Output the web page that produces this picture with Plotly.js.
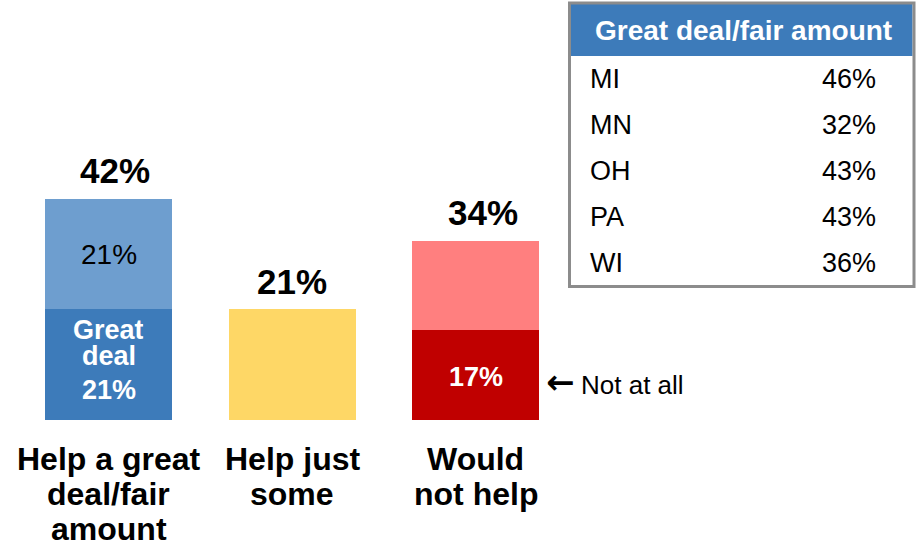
<!DOCTYPE html>
<html>
<head>
<meta charset="utf-8">
<script src="https://cdn.plot.ly/plotly-3.0.1.min.js"></script>
<style>
  html, body { margin: 0; padding: 0; background: #ffffff; }
  #chart { width: 916px; height: 547px; }
</style>
</head>
<body>
<div id="chart"></div>
<script>
// ---------- DATA ----------
var categories = ["Help a great<br>deal/fair<br>amount", "Help just<br>some", "Would<br>not help"];
var baseValues = [21, 21, 17];      // Great deal / Help just some / Not at all
var topValues  = [21, 0, 17];       // Fair amount / - / Not too much
var totals     = [42, 21, 34];
var baseLabelWord = "Great deal";
var notAtAllArrow = "\u2190";
var notAtAllLabel = "Not at all";

var tableHeader = "Great deal/fair amount";
var states      = ["MI", "MN", "OH", "PA", "WI"];
var stateValues = [46, 32, 43, 43, 36];

// ---------- STYLE ----------
var FONT = "Liberation Sans, Arial, Helvetica, sans-serif";
var baseColors = ["#3D7BBA", "#FED766", "#C00000"];
var topColors  = ["#6E9ECF", "#FED766", "#FF7F7F"];
var totalShift = [6, 0, 7];
var W = 916, H = 547;
function px(x) { return x / W; }
function py(y) { return 1 - y / H; }

var xs = categories.map(function (c, i) { return i; });

var traces = [
  {
    type: "bar", x: xs, y: baseValues, width: 0.692,
    marker: { color: baseColors, line: { width: 0 } },
    hoverinfo: "skip", showlegend: false
  },
  {
    type: "bar", x: xs, y: topValues, width: 0.692,
    marker: { color: topColors, line: { width: 0 } },
    hoverinfo: "skip", showlegend: false
  },
  {
    type: "table",
    domain: { x: [px(582), px(884)], y: [py(275), py(44)] },
    columnwidth: [150, 150],
    header: { values: [], height: 0, line: { width: 0 }, fill: { color: "rgba(0,0,0,0)" } },
    cells: {
      values: [states, stateValues],
      suffix: ["", "%"],
      align: ["left", "right"],
      height: 46,
      font: { family: FONT, size: 27, color: "#000000" },
      fill: { color: "rgba(0,0,0,0)" },
      line: { width: 0, color: "rgba(0,0,0,0)" }
    }
  }
];

var annotations = [];
// totals above bars
totals.forEach(function (t, i) {
  annotations.push({
    x: i, y: t, xref: "x", yref: "y", text: "<b>" + t + "%</b>", showarrow: false,
    xanchor: "center", yanchor: "middle", yshift: 28, xshift: totalShift[i],
    font: { family: FONT, size: 35, color: "#000000" }
  });
});
// top segment label (bar 1)
annotations.push({
  x: 0, y: baseValues[0] + topValues[0] / 2, xref: "x", yref: "y",
  text: topValues[0] + "%", showarrow: false, xanchor: "center", yanchor: "middle",
  font: { family: FONT, size: 28, color: "#000000" }
});
// base segment label (bar 1) : "Great" / "deal" / "21%"
var words = baseLabelWord.split(" ");
var shifts = [35, 9];
words.forEach(function (w, k) {
  annotations.push({
    x: 0, y: baseValues[0] / 2, xref: "x", yref: "y",
    text: "<b>" + w + "</b>", showarrow: false, xanchor: "center", yanchor: "middle",
    height: 25, yshift: shifts[k], font: { family: FONT, size: 27, color: "#ffffff" }
  });
});
annotations.push({
  x: 0, y: baseValues[0] / 2, xref: "x", yref: "y",
  text: "<b>" + baseValues[0] + "%</b>", showarrow: false, xanchor: "center", yanchor: "middle",
  height: 28, yshift: -25, font: { family: FONT, size: 27, color: "#ffffff" }
});
// base segment label (bar 3)
annotations.push({
  x: 2, y: baseValues[2] / 2, xref: "x", yref: "y",
  text: "<b>" + baseValues[2] + "%</b>", showarrow: false, xanchor: "center", yanchor: "middle",
  yshift: -2, font: { family: FONT, size: 27, color: "#ffffff" }
});
// "Not at all" pointer
annotations.push({
  x: 2.396, y: baseValues[2] / 2, xref: "x", yref: "y",
  text: "<b>" + notAtAllArrow + "</b>", showarrow: false, xanchor: "left", yanchor: "middle",
  xshift: -4, yshift: -7, font: { family: "DejaVu Sans, sans-serif", size: 34, color: "#000000" }
});
annotations.push({
  x: 2.40, y: baseValues[2] / 2, xref: "x", yref: "y",
  text: notAtAllLabel, showarrow: false, xanchor: "left", yanchor: "middle",
  xshift: 30, yshift: -10, font: { family: FONT, size: 26, color: "#000000" }
});
// category labels, one line at a time
categories.forEach(function (c, i) {
  c.split("<br>").forEach(function (line, k) {
    annotations.push({
      x: i, y: 0, xref: "x", yref: "y", text: "<b>" + line + "</b>", showarrow: false,
      xanchor: "center", yanchor: "middle", yshift: -(39 + 35 * k),
      font: { family: FONT, size: 32, color: "#000000" }
    });
  });
});
// table header
annotations.push({
  x: px(743), y: py(31), xref: "paper", yref: "paper",
  text: "<b>" + tableHeader + "</b>", showarrow: false, xanchor: "center", yanchor: "middle",
  font: { family: FONT, size: 28, color: "#ffffff" }
});

var shapes = [
  { type: "rect", xref: "paper", yref: "paper", layer: "below",
    x0: px(571), x1: px(912.5), y0: py(56), y1: py(4),
    fillcolor: "#3D7BBA", line: { width: 0 } },
  { type: "rect", xref: "paper", yref: "paper", layer: "above",
    x0: px(569.5), x1: px(914), y0: py(286.5), y1: py(3),
    fillcolor: "rgba(0,0,0,0)", line: { color: "#8C8C8C", width: 3 } }
];

var layout = {
  width: W, height: H,
  margin: { l: 0, r: 0, t: 0, b: 0, pad: 0 },
  paper_bgcolor: "#ffffff", plot_bgcolor: "#ffffff",
  barmode: "stack", bargap: 0,
  showlegend: false, hovermode: false,
  xaxis: { range: [-0.5913, 4.4005], visible: false, fixedrange: true },
  yaxis: { range: [-24.1, 79.7], visible: false, fixedrange: true },
  annotations: annotations,
  shapes: shapes,
  font: { family: FONT }
};

Plotly.newPlot("chart", traces, layout, { staticPlot: true, displayModeBar: false });
</script>
</body>
</html>
